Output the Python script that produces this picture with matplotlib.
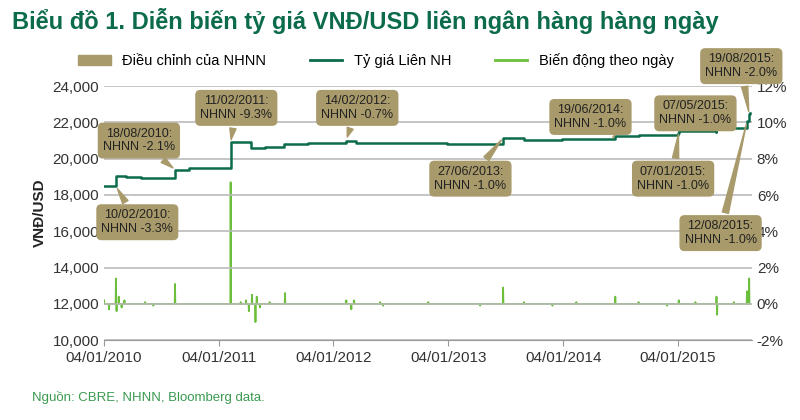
import matplotlib
matplotlib.use("Agg")
import matplotlib.pyplot as plt
import matplotlib.dates as mdates
import pandas as pd
plt.rcParams['font.family'] = ['Liberation Sans', 'DejaVu Sans']

# Interbank rate (step path), VND/USD
rate_dates = ["2010-01-04","2010-02-10","2010-02-11","2010-03-15","2010-05-01","2010-08-17","2010-08-18","2010-10-01",
              "2011-02-10","2011-02-11","2011-04-15","2011-04-16","2011-06-01","2011-08-01","2011-10-15","2012-02-13",
              "2012-02-14","2012-03-15","2012-09-01","2013-01-01","2013-06-26","2013-06-27","2013-09-01","2014-01-01",
              "2014-06-18","2014-06-19","2014-09-01","2015-01-06","2015-01-07","2015-05-06","2015-05-07","2015-08-11",
              "2015-08-12","2015-08-18","2015-08-19","2015-08-21"]
rate_values = [18480,18480,19050,19000,18950,18950,19350,19480,
               19500,20900,20900,20600,20650,20800,20850,20900,
               21000,20850,20850,20830,20830,21150,21050,21080,
               21100,21250,21300,21400,21500,21450,21700,21850,
               22050,22050,22450,22500]

# Daily change, % (sparse readings; all other days 0)
chg_dates = ["2010-01-04","2010-01-20","2010-02-10","2010-02-11","2010-02-13","2010-02-20","2010-03-01","2010-03-10",
             "2010-04-01","2010-05-15","2010-06-10","2010-07-01","2010-08-17","2010-08-18","2010-08-20","2010-10-01",
             "2011-01-01","2011-02-10","2011-02-11","2011-02-12","2011-03-15","2011-04-01","2011-04-10","2011-04-20",
             "2011-05-01","2011-05-05","2011-05-15","2011-06-15","2011-08-01","2011-08-03","2011-09-15","2012-01-15",
             "2012-02-14","2012-03-01","2012-03-10","2012-04-01","2012-06-01","2012-06-10","2012-09-01","2012-11-01",
             "2013-02-01","2013-04-15","2013-06-26","2013-06-27","2013-06-29","2013-09-01","2013-12-01","2014-02-15",
             "2014-06-18","2014-06-19","2014-06-21","2014-09-01","2014-12-01","2015-01-07","2015-03-01","2015-05-06",
             "2015-05-07","2015-05-09","2015-07-01","2015-08-11","2015-08-12","2015-08-14","2015-08-18","2015-08-19",
             "2015-08-21"]
chg_values = [0.2,-0.3,0.1,1.4,-0.4,0.4,-0.2,0.2,
              0.0,0.1,-0.1,0.0,0.0,1.1,0.0,0.0,
              0.0,0.0,6.7,0.0,0.1,0.2,-0.4,0.5,
              -1.0,0.4,-0.2,0.1,0.0,0.6,0.0,0.0,
              0.2,-0.3,0.2,0.0,0.1,-0.1,0.0,0.1,
              0.0,-0.1,0.0,0.9,0.0,0.1,-0.1,0.1,
              0.0,0.4,0.0,0.1,-0.1,0.2,0.1,0.0,
              0.4,-0.6,0.1,0.0,0.7,0.0,0.0,1.4,0.0]

annotations = [("10/02/2010:\nNHNN -3.3%", "2010-02-11", 18480, "2010-04-20", 16500),
               ("18/08/2010:\nNHNN -2.1%", "2010-08-18", 19400, "2010-04-25", 21000),
               ("11/02/2011:\nNHNN -9.3%", "2011-02-11", 20900, "2011-03-01", 22800),
               ("14/02/2012:\nNHNN -0.7%", "2012-02-14", 21050, "2012-03-20", 22800),
               ("27/06/2013:\nNHNN -1.0%", "2013-06-27", 21150, "2013-03-15", 18900),
               ("19/06/2014:\nNHNN -1.0%", "2014-06-19", 21300, "2014-04-01", 22300),
               ("07/01/2015:\nNHNN -1.0%", "2015-01-07", 21500, "2014-12-20", 18900),
               ("07/05/2015:\nNHNN -1.0%", "2015-05-07", 21700, "2015-03-01", 22500),
               ("12/08/2015:\nNHNN -1.0%", "2015-08-12", 22050, "2015-05-20", 15900),
               ("19/08/2015:\nNHNN -2.0%", "2015-08-19", 22450, "2015-07-25", 25100)]

xticks = ["2010-01-04","2011-01-04","2012-01-04","2013-01-04","2014-01-04","2015-01-04"]

dark = "#0b6b4a"; light = "#6cbf3c"; tan = "#a89a6a"
fig = plt.figure(figsize=(8, 4.2), dpi=100)
ax = fig.add_axes([0.13, 0.19, 0.81, 0.605])
ax2 = ax.twinx()
ax.set_zorder(ax2.get_zorder() + 1); ax.patch.set_visible(False)

ax.step(pd.to_datetime(rate_dates), rate_values, where="post", color=dark, lw=1.8)
chg = pd.Series(chg_values, index=pd.to_datetime(chg_dates))
chg = chg.reindex(pd.date_range(chg.index[0], chg.index[-1], freq="D"), fill_value=0.0)
ax2.plot(chg.index, chg.values, color=light, lw=1.3)

ax.set_ylim(10000, 24000); ax2.set_ylim(-2, 12)
ax.set_yticks(range(10000, 24001, 2000))
ax.set_yticklabels([f"{v:,}" for v in range(10000, 24001, 2000)])
ax2.set_yticks(range(-2, 13, 2)); ax2.set_yticklabels([f"{v}%" for v in range(-2, 13, 2)])
ax.set_xlim(pd.Timestamp("2010-01-04"), pd.Timestamp("2015-08-28"))
ax.set_xticks(pd.to_datetime(xticks)); ax.xaxis.set_major_formatter(mdates.DateFormatter("%d/%m/%Y"))
ax.grid(axis="y", color="#bbbbbb", lw=1.2)
for a in (ax, ax2):
    for s in a.spines.values(): s.set_visible(False)
    a.tick_params(length=0, labelsize=11, colors="#333333")
ax.spines["bottom"].set_visible(True); ax.spines["bottom"].set_color("#999999")
ax.tick_params(axis="x", length=4, color="#999999")
ax.set_ylabel("VNĐ/USD", fontsize=11, fontweight="bold", color="#222222")

for txt, d, v, td, tv in annotations:
    ax.annotate(txt, xy=(pd.Timestamp(d), v), xytext=(pd.Timestamp(td), tv), fontsize=9,
                ha="center", va="center", color="#222222", annotation_clip=False,
                bbox=dict(boxstyle="round,pad=0.35", fc=tan, ec=tan),
                arrowprops=dict(arrowstyle="wedge,tail_width=0.5", fc=tan, ec=tan))

from matplotlib.patches import Patch
from matplotlib.lines import Line2D
handles = [Patch(fc=tan, ec=tan), Line2D([], [], color=dark, lw=2), Line2D([], [], color=light, lw=2)]
fig.legend(handles, ["Điều chỉnh của NHNN", "Tỷ giá Liên NH", "Biến động theo ngày"], loc="center",
           bbox_to_anchor=(0.47, 0.855), ncol=3, frameon=False, fontsize=10.5, handlelength=2.2, columnspacing=3)
fig.text(0.015, 0.95, "Biểu đồ 1. Diễn biến tỷ giá VNĐ/USD liên ngân hàng hàng ngày", fontsize=17,
         fontweight="bold", color=dark, va="center")
fig.text(0.04, 0.045, "Nguồn: CBRE, NHNN, Bloomberg data.", fontsize=9.5, color="#3a9a50")
fig.savefig("out.png", dpi=100)
